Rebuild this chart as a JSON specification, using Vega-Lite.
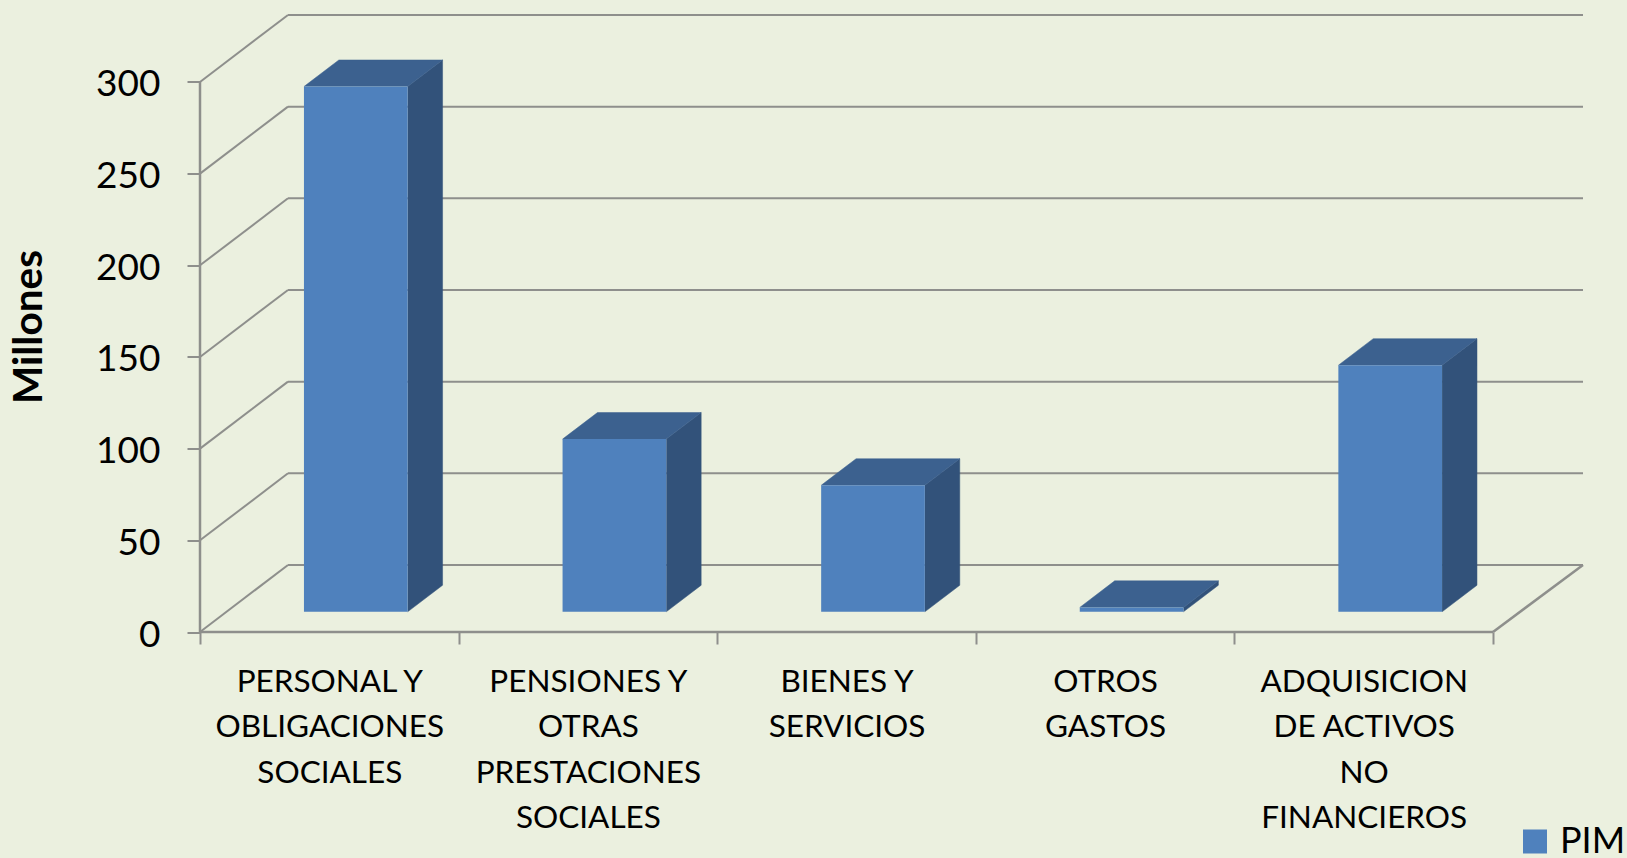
{
"$schema":"https://vega.github.io/schema/vega-lite/v6.json",
"width":1383,"height":617.5,
"autosize":{"type":"none"},
"padding":{"left":200,"top":14.5,"right":44,"bottom":226},
"background":"#EBF0DF",
"config":{"view":{"stroke":null},"font":"Lato"},
"datasets":{
"bars":[
{"category":"PERSONAL Y OBLIGACIONES SOCIALES","value":286.5,"serie":"PIM"},
{"category":"PENSIONES Y OTRAS PRESTACIONES SOCIALES","value":94.2,"serie":"PIM"},
{"category":"BIENES Y SERVICIOS","value":69,"serie":"PIM"},
{"category":"OTROS GASTOS","value":2.4,"serie":"PIM"},
{"category":"ADQUISICION DE ACTIVOS NO FINANCIEROS","value":134.5,"serie":"PIM"}],
"levels":[{"level":0},{"level":50},{"level":100},{"level":150},{"level":200},{"level":250},{"level":300}]
},
"layer":[
{"data":{"name":"levels"},
"transform":[{"calculate":"0","as":"x0"},{"calculate":"0.3403","as":"x1"},{"calculate":"datum.level+36.55","as":"yb"}],
"mark":{"type":"rule","color":"#8E8F8C","strokeWidth":2},
"encoding":{
"x":{"field":"x0","type":"quantitative","scale":{"domain":[0,5.348],"nice":false,"zero":false},
"axis":{"values":[0,1,2,3,4,5],"title":null,"domain":false,"grid":false,"tickSize":12,"tickWidth":2,"tickColor":"#8E8F8C",
"labelExpr":"[['PERSONAL Y','OBLIGACIONES','SOCIALES'],['PENSIONES Y','OTRAS','PRESTACIONES','SOCIALES'],['BIENES Y','SERVICIOS'],['OTROS','GASTOS'],['ADQUISICION','DE ACTIVOS','NO','FINANCIEROS'],''][datum.value]",
"labelOffset":129.3,"labelAlign":"center","labelBaseline":"top","labelPadding":22.5,"labelFontSize":31.5,"labelLineHeight":45.3,"labelColor":"#000000","labelFont":"Lato","labelOverlap":false,"labelBound":false,"labelFlush":false,"labelLimit":400}},
"x2":{"field":"x1"},
"y":{"field":"level","type":"quantitative","scale":{"domain":[0,336.8],"nice":false,"zero":false},
"axis":{"values":[0,50,100,150,200,250,300],"title":"Millones","titleFontSize":40.5,"titleFontWeight":"bold","titleFont":"Lato","titleColor":"#000000","titleX":-150,"titleY":312,"domain":false,"grid":false,"tickSize":13,"tickWidth":2,"tickColor":"#8E8F8C","labelPadding":27,"labelFontSize":37,"labelOffset":3,"labelColor":"#000000","labelFont":"Lato"}},
"y2":{"field":"yb"}}},
{"data":{"name":"levels"},
"transform":[{"calculate":"0.3403","as":"x0"},{"calculate":"5.348","as":"x1"},{"calculate":"datum.level+36.55","as":"yb"}],
"mark":{"type":"rule","color":"#8E8F8C","strokeWidth":2},
"encoding":{"x":{"field":"x0","type":"quantitative"},"x2":{"field":"x1"},"y":{"field":"yb","type":"quantitative"}}},
{"data":{"values":[{"a":0,"b":0,"c":0,"d":300},{"a":0,"b":5,"c":0,"d":0},{"a":5,"b":5.348,"c":0,"d":36.55}]},
"mark":{"type":"rule","color":"#8E8F8C","strokeWidth":2.5},
"encoding":{"x":{"field":"a","type":"quantitative"},"x2":{"field":"b"},"y":{"field":"c","type":"quantitative"},"y2":{"field":"d"}}},
{"data":{"name":"bars"},
"transform":[{"window":[{"op":"row_number","as":"n"}]},
{"calculate":"datum.n-1+0.803","as":"R"},{"calculate":"11+datum.value","as":"t"},
{"calculate":"[0,1,2,3]","as":"k"},
{"calculate":"[datum.R,datum.R+0.135,datum.R+0.135,datum.R]","as":"px"},
{"calculate":"[11,25.5,datum.t+14.5,datum.t]","as":"py"},
{"flatten":["k","px","py"]}],
"mark":{"type":"line","fill":"#32527A","stroke":"#32527A","strokeWidth":0.5,"interpolate":"linear"},
"encoding":{"x":{"field":"px","type":"quantitative"},"y":{"field":"py","type":"quantitative"},"detail":{"field":"category"},"order":{"field":"k"}}},
{"data":{"name":"bars"},
"transform":[{"window":[{"op":"row_number","as":"n"}]},
{"calculate":"datum.n-1+0.402","as":"L"},{"calculate":"11+datum.value","as":"t"},
{"calculate":"[0,1,2,3]","as":"k"},
{"calculate":"[datum.L,datum.L+0.135,datum.L+0.536,datum.L+0.401]","as":"px"},
{"calculate":"[datum.t,datum.t+14.5,datum.t+14.5,datum.t]","as":"py"},
{"flatten":["k","px","py"]}],
"mark":{"type":"line","fill":"#3C618F","stroke":"#3C618F","strokeWidth":0.5,"interpolate":"linear"},
"encoding":{"x":{"field":"px","type":"quantitative"},"y":{"field":"py","type":"quantitative"},"detail":{"field":"category"},"order":{"field":"k"}}},
{"data":{"name":"bars"},
"transform":[{"window":[{"op":"row_number","as":"n"}]},
{"calculate":"datum.n-1+0.402","as":"L"},{"calculate":"datum.n-1+0.803","as":"R"},{"calculate":"11","as":"b"},{"calculate":"11+datum.value","as":"t"}],
"mark":{"type":"rect"},
"encoding":{"x":{"field":"L","type":"quantitative"},"x2":{"field":"R"},"y":{"field":"b","type":"quantitative"},"y2":{"field":"t"},
"color":{"field":"serie","type":"nominal","scale":{"domain":["PIM"],"range":["#4F81BD"]},
"legend":{"orient":"none","legendX":1317,"legendY":809,"title":null,"symbolType":"square","symbolSize":576,"symbolStrokeWidth":0,"labelFontSize":36,"labelColor":"#000000","labelFont":"Lato","labelOffset":7,"labelLimit":66,"padding":0,"symbolOffset":0}}}}
]
}
